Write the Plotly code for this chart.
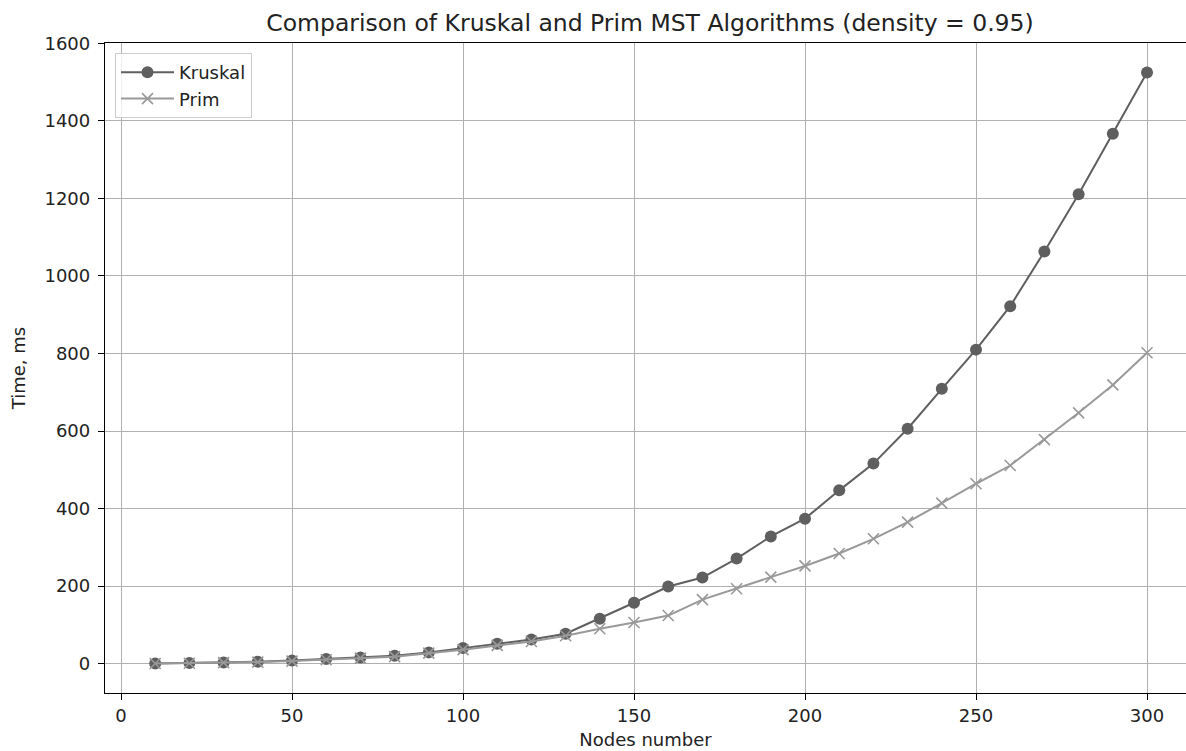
import plotly.graph_objects as go

nodes = [10, 20, 30, 40, 50, 60, 70, 80, 90, 100, 110, 120, 130, 140, 150,
         160, 170, 180, 190, 200, 210, 220, 230, 240, 250, 260, 270, 280, 290, 300]
kruskal = [0.5, 1.5, 3, 5, 8, 12, 16, 20, 29, 40, 51, 62, 77, 116, 157,
           199, 222, 271, 328, 374, 447, 516, 606, 709, 810, 922, 1063, 1211, 1367, 1525]
prim = [0.3, 1, 2.5, 4, 6.5, 10, 14, 18, 27, 36, 47, 57, 72, 90, 106,
        124, 165, 193, 223, 252, 284, 322, 365, 414, 464, 511, 578, 647, 719, 802]
x_ticks = [0, 50, 100, 150, 200, 250, 300]
y_ticks = [0, 200, 400, 600, 800, 1000, 1200, 1400, 1600]

title_text = "Comparison of Kruskal and Prim MST Algorithms (density = 0.95)"
font_family = "DejaVu Sans"

fig = go.Figure()
fig.add_trace(go.Scatter(
    x=nodes, y=kruskal, mode="lines+markers", name="Kruskal",
    line=dict(color="#5f5f5f", width=2),
    marker=dict(symbol="circle", size=12, color="#5f5f5f"),
))
fig.add_trace(go.Scatter(
    x=nodes, y=prim, mode="lines+markers", name="Prim",
    line=dict(color="#999999", width=2),
    marker=dict(symbol="x-thin", size=11, color="#999999",
                line=dict(color="#999999", width=1.6)),
))

W, H = 1186, 751
L, R, T, B = 105, 0, 43, 58
pw = W - L - R
ph = H - T - B

fig.update_layout(
    width=W, height=H,
    margin=dict(l=L, r=R, t=T, b=B, autoexpand=False),
    paper_bgcolor="white", plot_bgcolor="white",
    font=dict(family=font_family, size=18, color="#222222"),
    title=dict(text=title_text, x=(650 - L) / pw, xref="paper", xanchor="center",
               y=1 - 23 / H, yref="container", yanchor="middle",
               font=dict(size=23.5, color="#222222", family=font_family)),
    showlegend=True,
    legend=dict(x=10 / pw, y=1 - 10 / ph, xanchor="left", yanchor="top",
                bgcolor="rgba(255,255,255,0.8)", bordercolor="#cccccc", borderwidth=1,
                font=dict(size=18, family=font_family), itemwidth=53,
                tracegroupgap=0),
    xaxis=dict(
        range=[-4.68, 311.4],
        tickvals=x_ticks,
        showgrid=True, gridcolor="#b0b0b0", gridwidth=1,
        zeroline=False,
        showline=True, linecolor="black", linewidth=1.3, mirror=True,
        ticks="outside", ticklen=6, tickcolor="black",
        tickfont=dict(size=18, color="#222222"),
        automargin=False,
        title=dict(text="Nodes number", standoff=8, font=dict(size=18)),
    ),
    yaxis=dict(
        range=[-75.8, 1601],
        tickvals=y_ticks,
        showgrid=True, gridcolor="#b0b0b0", gridwidth=1,
        zeroline=False,
        showline=True, linecolor="black", linewidth=1.3, mirror=False,
        ticks="outside", ticklen=6, tickcolor="black",
        tickfont=dict(size=18, color="#222222"),
        ticklabelstandoff=4,
        automargin=False,
        title=dict(text="Time, ms", standoff=14, font=dict(size=18)),
    ),
)

fig.write_html("out.html",
               config={"displayModeBar": False},
               post_script="document.body.style.margin='0';document.body.style.overflow='hidden';")
